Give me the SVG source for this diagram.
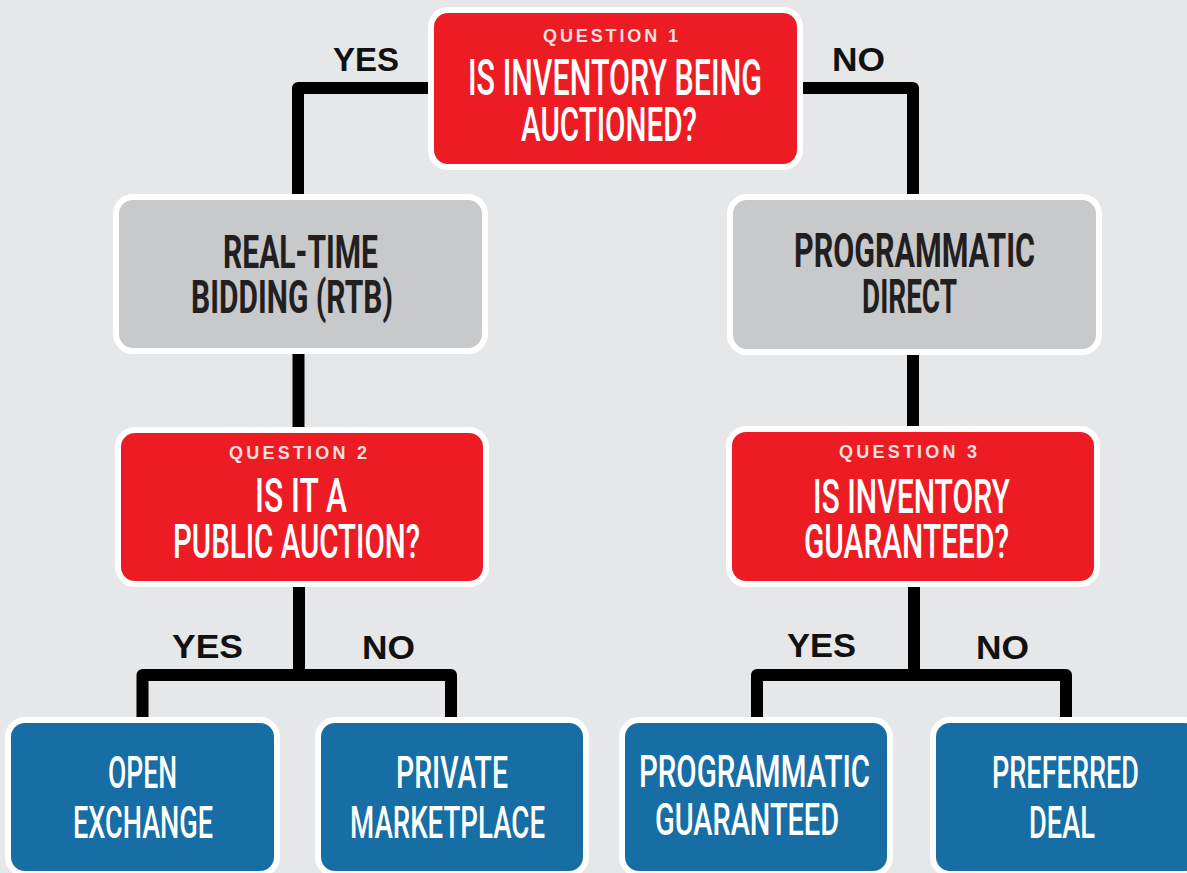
<svg xmlns="http://www.w3.org/2000/svg" width="1187" height="873" viewBox="0 0 1187 873">
  <defs>
    <style>
      .bg { fill: #e6e7e8; }
      .box { stroke: #ffffff; stroke-width: 6; }
      .q { fill: #ed1c24; }
      .cat { fill: #c8c9cb; }
      .leaf { fill: #166ea5; }
      .wire { fill: none; stroke: #000000; stroke-width: 12; stroke-linejoin: round; stroke-linecap: butt; }
      .big { font-family: Roboto, "Liberation Sans", sans-serif; font-weight: 500; }
      .dark { fill: #231f20; font-weight: 700; }
      .light { fill: #ffffff; }
      .tag { font-family: "Liberation Sans", Arial, sans-serif; font-weight: 700; font-size: 18px; fill: #f9dede; }
      .ans { font-family: "Liberation Sans", Arial, sans-serif; font-weight: 700; font-size: 33px; fill: #111111; }
    </style>
  </defs>

  <rect class="bg" x="0" y="0" width="1187" height="873"/>

  <!-- connectors -->
  <g id="connectors">
    <path class="wire" d="M 430 88 H 298 V 197"/>
    <path class="wire" d="M 800 88 H 913 V 197"/>
    <path class="wire" d="M 298.5 351 V 430"/>
    <path class="wire" d="M 913 351 V 429"/>
    <path class="wire" d="M 299 585 V 675"/>
    <path class="wire" d="M 142.5 720 V 675 H 451 V 720"/>
    <path class="wire" d="M 914 584 V 675"/>
    <path class="wire" d="M 757 720 V 675 H 1066 V 720"/>
  </g>

  <!-- branch labels -->
  <g id="labels">
    <text class="ans" x="333" y="71" textLength="66" lengthAdjust="spacingAndGlyphs">YES</text>
    <text class="ans" x="832" y="71" textLength="53" lengthAdjust="spacingAndGlyphs">NO</text>
    <text class="ans" x="172" y="658" textLength="71" lengthAdjust="spacingAndGlyphs">YES</text>
    <text class="ans" x="362" y="659" textLength="53" lengthAdjust="spacingAndGlyphs">NO</text>
    <text class="ans" x="787" y="657" textLength="69" lengthAdjust="spacingAndGlyphs">YES</text>
    <text class="ans" x="976" y="659" textLength="53" lengthAdjust="spacingAndGlyphs">NO</text>
  </g>

  <!-- question 1 -->
  <g id="question-1">
    <rect class="box q" x="431" y="10" width="369" height="157" rx="17"/>
    <text class="tag" x="543" y="42" textLength="135" lengthAdjust="spacing">QUESTION 1</text>
    <text class="big light" transform="translate(468 95) scale(0.6 1)" font-size="50" textLength="490" lengthAdjust="spacingAndGlyphs">IS INVENTORY BEING</text>
    <text class="big light" transform="translate(521 141) scale(0.6 1)" font-size="49" textLength="293.3" lengthAdjust="spacingAndGlyphs">AUCTIONED?</text>
  </g>

  <!-- real-time bidding -->
  <g id="rtb">
    <rect class="box cat" x="116" y="197" width="369" height="154" rx="17"/>
    <text class="big dark" transform="translate(223 268) scale(0.6 1)" font-size="47" textLength="258.3" lengthAdjust="spacingAndGlyphs">REAL-TIME</text>
    <text class="big dark" transform="translate(191 313) scale(0.6 1)" font-size="47" textLength="336.7" lengthAdjust="spacingAndGlyphs">BIDDING (RTB)</text>
  </g>

  <!-- programmatic direct -->
  <g id="programmatic-direct">
    <rect class="box cat" x="730" y="197" width="369" height="155" rx="17"/>
    <text class="big dark" transform="translate(794 267) scale(0.6 1)" font-size="48" textLength="401.7" lengthAdjust="spacingAndGlyphs">PROGRAMMATIC</text>
    <text class="big dark" transform="translate(862 313) scale(0.6 1)" font-size="48" textLength="158.3" lengthAdjust="spacingAndGlyphs">DIRECT</text>
  </g>

  <!-- question 2 -->
  <g id="question-2">
    <rect class="box q" x="118" y="430" width="368" height="154" rx="17"/>
    <text class="tag" x="229" y="459" textLength="138" lengthAdjust="spacing">QUESTION 2</text>
    <text class="big light" transform="translate(255 512) scale(0.6 1)" font-size="49" textLength="153.3" lengthAdjust="spacingAndGlyphs">IS IT A</text>
    <text class="big light" transform="translate(173 558) scale(0.6 1)" font-size="49" textLength="411.7" lengthAdjust="spacingAndGlyphs">PUBLIC AUCTION?</text>
  </g>

  <!-- question 3 -->
  <g id="question-3">
    <rect class="box q" x="729" y="429" width="368" height="155" rx="17"/>
    <text class="tag" x="839" y="458" textLength="138" lengthAdjust="spacing">QUESTION 3</text>
    <text class="big light" transform="translate(813 513) scale(0.6 1)" font-size="49" textLength="328.3" lengthAdjust="spacingAndGlyphs">IS INVENTORY</text>
    <text class="big light" transform="translate(804 558) scale(0.6 1)" font-size="49" textLength="341.7" lengthAdjust="spacingAndGlyphs">GUARANTEED?</text>
  </g>

  <!-- outcomes -->
  <g id="open-exchange">
    <rect class="box leaf" x="8" y="720" width="269" height="154" rx="17"/>
    <text class="big light" transform="translate(108 788) scale(0.6 1)" font-size="45" textLength="115" lengthAdjust="spacingAndGlyphs">OPEN</text>
    <text class="big light" transform="translate(73 838) scale(0.6 1)" font-size="45" textLength="233.3" lengthAdjust="spacingAndGlyphs">EXCHANGE</text>
  </g>

  <g id="private-marketplace">
    <rect class="box leaf" x="318" y="720" width="268" height="154" rx="17"/>
    <text class="big light" transform="translate(396 788) scale(0.6 1)" font-size="45" textLength="186.7" lengthAdjust="spacingAndGlyphs">PRIVATE</text>
    <text class="big light" transform="translate(350 838) scale(0.6 1)" font-size="45" textLength="325" lengthAdjust="spacingAndGlyphs">MARKETPLACE</text>
  </g>

  <g id="programmatic-guaranteed">
    <rect class="box leaf" x="622" y="720" width="268" height="154" rx="17"/>
    <text class="big light" transform="translate(639 787) scale(0.6 1)" font-size="45" textLength="385" lengthAdjust="spacingAndGlyphs">PROGRAMMATIC</text>
    <text class="big light" transform="translate(655 835) scale(0.6 1)" font-size="45" textLength="306.7" lengthAdjust="spacingAndGlyphs">GUARANTEED</text>
  </g>

  <g id="preferred-deal">
    <rect class="box leaf" x="933" y="720" width="268" height="154" rx="17"/>
    <text class="big light" transform="translate(992 788) scale(0.6 1)" font-size="45" textLength="245" lengthAdjust="spacingAndGlyphs">PREFERRED</text>
    <text class="big light" transform="translate(1029 838) scale(0.6 1)" font-size="45" textLength="110" lengthAdjust="spacingAndGlyphs">DEAL</text>
  </g>
</svg>
